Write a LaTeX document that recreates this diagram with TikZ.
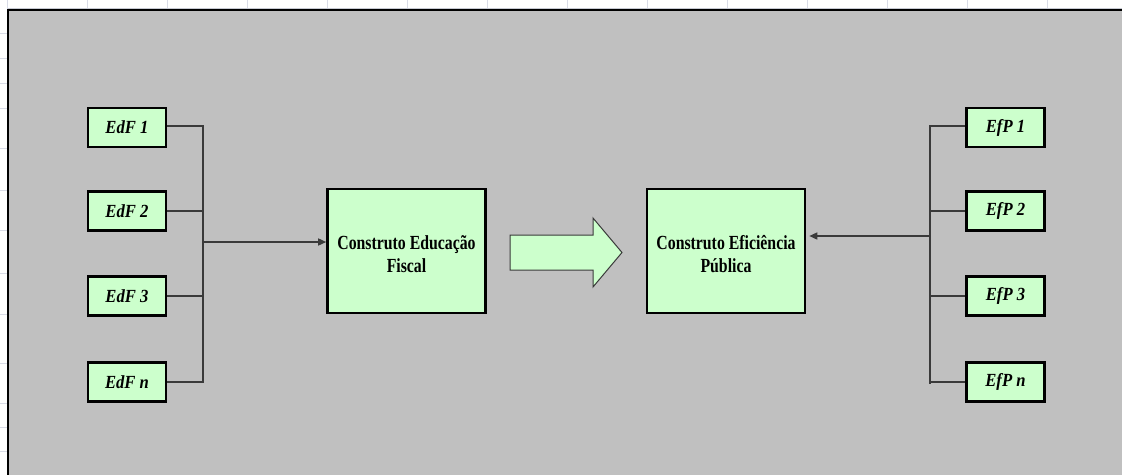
\documentclass[tikz,border=0pt]{standalone}
\usepackage{fontspec}
\setmainfont{Liberation Serif}
\newfontfamily\itemfont[FakeStretch=0.9]{Liberation Serif}
\newfontfamily\constructfont[FakeStretch=0.79]{Liberation Serif}
\usetikzlibrary{arrows.meta}
\definecolor{sheetgrid}{HTML}{D8DBE6}
\definecolor{panelgray}{HTML}{C0C0C0}
\definecolor{paleGreen}{HTML}{CCFFCC}
\definecolor{wire}{HTML}{3A3A3A}
\begin{document}
\begin{tikzpicture}[x=1pt,y=-1pt,
  itembox/.style={draw=black,line width=2.6pt,fill=paleGreen,minimum width=78pt,minimum height=39pt,inner sep=0pt,
    font=\itemfont\fontsize{18.5}{22}\selectfont\bfseries\itshape},
  constructbox/.style={draw=black,line width=2.6pt,fill=paleGreen,minimum width=158pt,minimum height=124pt,inner sep=0pt},
  constructtext/.style={align=center,font=\constructfont\fontsize{20}{23}\selectfont\bfseries},
  wireline/.style={draw=wire,line width=1.5pt},
  tip/.style={-{Triangle[length=8pt,width=7pt]}}]
\useasboundingbox (0,0) rectangle (1122,474);
% spreadsheet grid around the panel
\fill[white] (0,0) rectangle (1122,474);
\foreach \gx in {7,87,...,1047} \draw[sheetgrid,line width=1pt] (\gx,0) -- (\gx,9);
\foreach \gy in {33,58,83,108,148,190,230,273,314,363,403,427,451} \draw[sheetgrid,line width=1pt] (0,\gy) -- (8,\gy);
\draw[sheetgrid!80!gray,line width=1pt] (8,8) -- (1122,8);
% gray panel
\filldraw[fill=panelgray,draw=black,line width=2.6pt] (8,10) rectangle (1135,490);

% left indicators
\node[itembox] (e1) at (127,127.5) {EdF 1};
\node[itembox] (e2) at (127,211) {EdF 2};
\node[itembox] (e3) at (127,296) {EdF 3};
\node[itembox] (en) at (127,382) {EdF \textit{n}};
% right indicators
\node[itembox] (p1) at (1005.5,127.5) {EfP 1};
\node[itembox] (p2) at (1005.5,211) {EfP 2};
\node[itembox] (p3) at (1005.5,296) {EfP 3};
\node[itembox] (pn) at (1005.5,382) {EfP \textit{n}};

% constructs
\node[constructbox] (ce) at (406.5,251) {};
\node[constructtext] (cet) at (406.5,254) {Construto Educação\\Fiscal};
\node[constructbox] (cp) at (726,251) {};
\node[constructtext] (cpt) at (726,254) {Construto Eficiência\\Pública};

% collector lines on the left
\coordinate (lt) at (203,126);
\coordinate (lb) at (203,382);
\coordinate (lm) at (203,242);
\draw[wireline] (e1.east |- lt) -- (lt) -- (lb) -- (en.east |- lb);
\draw[wireline] (e2.east) -- (e2.east -| lt);
\draw[wireline] (e3.east) -- (e3.east -| lt);
\draw[wireline,tip] (lm) -- (lm -| ce.west);

% collector lines on the right
\coordinate (rt) at (930,126);
\coordinate (rb) at (930,384);
\coordinate (rm) at (930,236);
\draw[wireline] (p1.west |- rt) -- (rt) -- (rb);
\draw[wireline] (p2.west) -- (p2.west -| rt);
\draw[wireline] (p3.west) -- (p3.west -| rt);
\draw[wireline] (pn.west) -- (pn.west -| rt);
\draw[wireline,tip] (rm) -- ([xshift=3pt]rm -| cp.east);

% block arrow between the constructs
\filldraw[fill=paleGreen,draw=wire,line width=1pt]
  (510,235) -- (593,235) -- (593,218) -- (622,252.5) -- (593,287) -- (593,270) -- (510,270) -- cycle;
\end{tikzpicture}
\end{document}
